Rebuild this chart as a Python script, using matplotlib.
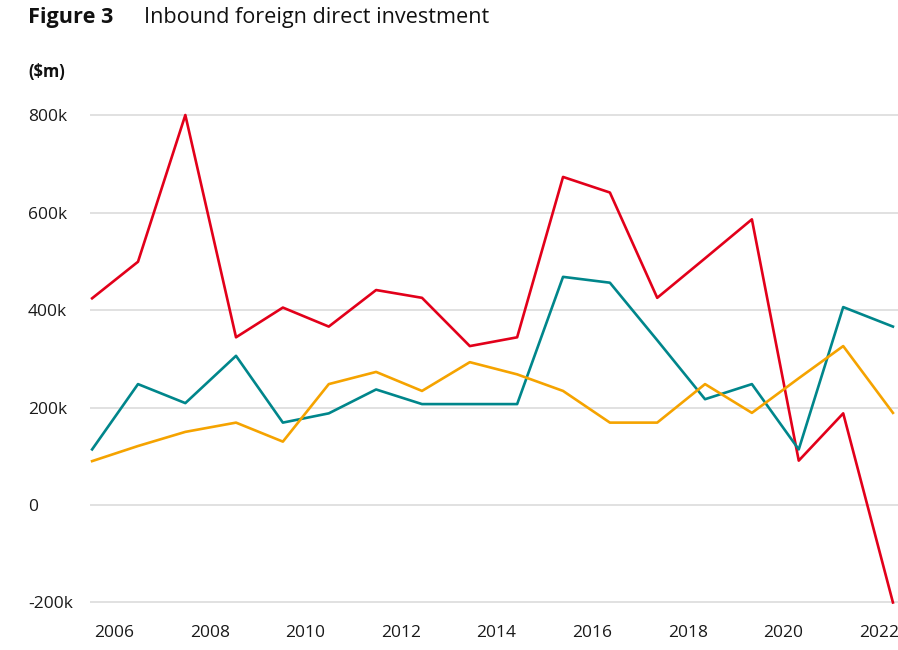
import matplotlib.pyplot as plt

plt.rcParams['font.family'] = ['Open Sans', 'DejaVu Sans']

# x values (fractional years, as placed in the reference)
years = [2005.54, 2006.50, 2007.49, 2008.55, 2009.53, 2010.49, 2011.48, 2012.44, 2013.44,
         2014.43, 2015.39, 2016.37, 2017.36, 2018.36, 2019.34, 2020.32, 2021.25, 2022.29]

# $m, in thousands
red_vals = [424, 499, 800, 344, 405, 366, 441, 425, 326, 344, 673, 641, 425, 506, 586, 91, 188, -200]
teal_vals = [114, 248, 209, 306, 169, 188, 237, 207, 207, 207, 468, 456, 338, 217, 248, 114, 406, 366]
orange_vals = [90, 121, 150, 169, 130, 248, 273, 234, 293, 268, 234, 169, 169, 248, 189, 260, 326, 189]

ytick_vals = [-200, 0, 200, 400, 600, 800]
ytick_labels = ['-200k', '0', '200k', '400k', '600k', '800k']
xtick_vals = [2006, 2008, 2010, 2012, 2014, 2016, 2018, 2020, 2022]

fig = plt.figure(figsize=(8.98, 6.5), dpi=100)
ax = fig.add_axes([90 / 898, 1 - 608 / 650, 808 / 898, 498 / 650])

ax.plot(years, red_vals, color='#e2001a', lw=1.9, clip_on=False, zorder=3)
ax.plot(years, teal_vals, color='#00868b', lw=1.9, clip_on=False, zorder=3)
ax.plot(years, orange_vals, color='#f5a300', lw=1.9, clip_on=False, zorder=3)

ax.set_xlim(2005.496, 2022.396)
ax.set_ylim(-211.3, 810.3)

ax.set_yticks(ytick_vals)
ax.set_yticklabels(ytick_labels, ha='left')
ax.set_xticks(xtick_vals)
ax.set_xticklabels([str(v) for v in xtick_vals])
ax.tick_params(axis='y', length=0, pad=44.6, labelsize=12.5, labelcolor='#1a1a1a')
ax.tick_params(axis='x', length=0, pad=12, labelsize=12.5, labelcolor='#1a1a1a')

ax.grid(axis='y', color='#d9d9d9', lw=1.1)
ax.set_axisbelow(True)
for s in ax.spines.values():
    s.set_visible(False)

fig.text(28 / 898, 1 - 18 / 650, 'Figure 3', fontsize=15.6, fontweight='bold', va='center', color='#111111')
fig.text(144 / 898, 1 - 18 / 650, 'Inbound foreign direct investment', fontsize=15.6, va='center', color='#111111')
fig.text(28 / 898, 1 - 71.5 / 650, '($m)', fontsize=12, fontweight='bold', va='center', color='#111111')

fig.savefig('out.png', dpi=100)
